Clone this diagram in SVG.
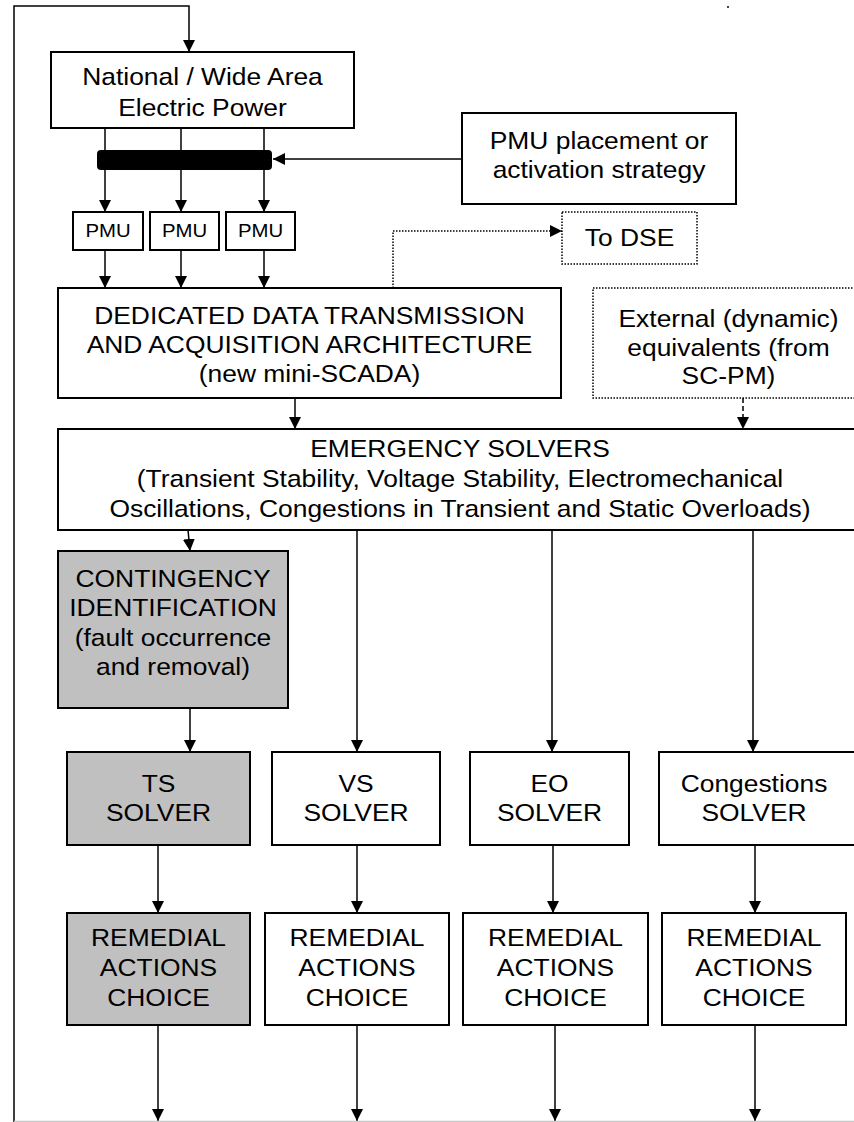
<svg xmlns="http://www.w3.org/2000/svg" width="854" height="1122" viewBox="0 0 854 1122">
<style>
.box{fill:#fff;stroke:#000;stroke-width:2}
.gray{fill:#c0c0c0;stroke:#000;stroke-width:2}
.dot{fill:#fff;stroke:#000;stroke-width:1.5;stroke-dasharray:1.5 1.5}
.t{font-family:"Liberation Sans",Arial,sans-serif;font-size:24px;text-anchor:middle;fill:#000}
.s{font-family:"Liberation Sans",Arial,sans-serif;font-size:18.5px;text-anchor:middle;fill:#000}
.c{stroke:#000;stroke-width:1.5;fill:none}
.cd{stroke:#000;stroke-width:1.5;fill:none;stroke-dasharray:1.5 1.5}
.cdash{stroke:#000;stroke-width:1.5;fill:none;stroke-dasharray:5 3}
</style>
<defs>
<marker id="ah" markerUnits="userSpaceOnUse" markerWidth="12" markerHeight="12" viewBox="0 0 12 12" refX="12" refY="6" orient="auto">
<path d="M0,0 L12,6 L0,12 z" fill="#000"/>
</marker>
</defs>
<rect width="854" height="1122" fill="#fff"/>
<g id="connectors">
<path class="c" d="M14,1122 V6 H189 V52" marker-end="url(#ah)"/>
<line class="c" x1="105" y1="128" x2="105" y2="212" marker-end="url(#ah)"/>
<line class="c" x1="181" y1="128" x2="181" y2="212" marker-end="url(#ah)"/>
<line class="c" x1="264" y1="128" x2="264" y2="212" marker-end="url(#ah)"/>
<rect x="97" y="150" width="175" height="20" rx="4" fill="#000"/>
<line class="c" x1="462" y1="159" x2="273" y2="159" marker-end="url(#ah)"/>
<line class="c" x1="105" y1="250" x2="105" y2="288" marker-end="url(#ah)"/>
<line class="c" x1="181" y1="250" x2="181" y2="288" marker-end="url(#ah)"/>
<line class="c" x1="264" y1="250" x2="264" y2="288" marker-end="url(#ah)"/>
<path class="cd" d="M393,288 V231 H562" marker-end="url(#ah)"/>
<line class="c" x1="295" y1="398" x2="295" y2="429" marker-end="url(#ah)"/>
<line class="cdash" x1="743" y1="398" x2="743" y2="429" marker-end="url(#ah)"/>
<line class="c" x1="188" y1="530" x2="190" y2="551" marker-end="url(#ah)"/>
<line class="c" x1="357" y1="530" x2="357" y2="752" marker-end="url(#ah)"/>
<line class="c" x1="552" y1="530" x2="552" y2="752" marker-end="url(#ah)"/>
<line class="c" x1="753" y1="530" x2="753" y2="752" marker-end="url(#ah)"/>
<line class="c" x1="190" y1="708" x2="190" y2="752" marker-end="url(#ah)"/>
<line class="c" x1="158" y1="845" x2="158" y2="913" marker-end="url(#ah)"/>
<line class="c" x1="357" y1="845" x2="357" y2="913" marker-end="url(#ah)"/>
<line class="c" x1="553" y1="845" x2="553" y2="913" marker-end="url(#ah)"/>
<line class="c" x1="755" y1="845" x2="755" y2="913" marker-end="url(#ah)"/>
<line class="c" x1="158" y1="1025" x2="158" y2="1121" marker-end="url(#ah)"/>
<line class="c" x1="357" y1="1025" x2="357" y2="1121" marker-end="url(#ah)"/>
<line class="c" x1="555" y1="1025" x2="555" y2="1121" marker-end="url(#ah)"/>
<line class="c" x1="755" y1="1025" x2="755" y2="1121" marker-end="url(#ah)"/>
</g>
<line x1="14" y1="1121.5" x2="854" y2="1121.5" stroke="#c8c8c8" stroke-width="1.5"/>
<rect x="727" y="6" width="2" height="2" fill="#444"/>
<g id="national">
<rect class="box" x="51" y="52" width="303" height="76"/>
<text class="t" transform="translate(202.5 0) scale(1.1 1)" y="85">National / Wide Area</text>
<text class="t" transform="translate(202.5 0) scale(1.1 1)" y="116">Electric Power</text>
</g>
<g id="pmu-strategy">
<rect class="box" x="462" y="113" width="274" height="91"/>
<text class="t" transform="translate(599 0) scale(1.1 1)" y="149">PMU placement or</text>
<text class="t" transform="translate(599 0) scale(1.1 1)" y="178">activation strategy</text>
</g>
<g id="pmu1">
<rect class="box" x="73" y="212" width="70" height="38"/>
<text class="s" transform="translate(108 0) scale(1.1 1)" y="237">PMU</text>
</g>
<g id="pmu2">
<rect class="box" x="150" y="212" width="69" height="38"/>
<text class="s" transform="translate(184.5 0) scale(1.1 1)" y="237">PMU</text>
</g>
<g id="pmu3">
<rect class="box" x="226" y="212" width="69" height="38"/>
<text class="s" transform="translate(260.5 0) scale(1.1 1)" y="237">PMU</text>
</g>
<g id="to-dse">
<rect class="dot" x="562" y="212" width="135" height="52"/>
<text class="t" transform="translate(629.5 0) scale(1.1 1)" y="246">To DSE</text>
</g>
<g id="ddt">
<rect class="box" x="58" y="288" width="503" height="110"/>
<text class="t" transform="translate(309.5 0) scale(1.1 1)" y="324">DEDICATED DATA TRANSMISSION</text>
<text class="t" transform="translate(309.5 0) scale(1.1 1)" y="353">AND ACQUISITION ARCHITECTURE</text>
<text class="t" transform="translate(309.5 0) scale(1.1 1)" y="382">(new mini-SCADA)</text>
</g>
<g id="external">
<rect class="dot" x="593" y="288" width="280" height="110"/>
<text class="t" transform="translate(728.5 0) scale(1.1 1)" y="327">External (dynamic)</text>
<text class="t" transform="translate(728.5 0) scale(1.1 1)" y="356">equivalents (from</text>
<text class="t" transform="translate(728.5 0) scale(1.1 1)" y="384">SC-PM)</text>
</g>
<g id="emergency">
<rect class="box" x="58" y="429" width="810" height="101"/>
<text class="t" transform="translate(460 0) scale(1.1 1)" y="457">EMERGENCY SOLVERS</text>
<text class="t" transform="translate(460 0) scale(1.1 1)" y="487">(Transient Stability, Voltage Stability, Electromechanical</text>
<text class="t" transform="translate(460 0) scale(1.1 1)" y="517">Oscillations, Congestions in Transient and Static Overloads)</text>
</g>
<g id="contingency">
<rect class="gray" x="58" y="551" width="230" height="157"/>
<text class="t" transform="translate(173 0) scale(1.1 1)" y="587">CONTINGENCY</text>
<text class="t" transform="translate(173 0) scale(1.1 1)" y="616">IDENTIFICATION</text>
<text class="t" transform="translate(173 0) scale(1.1 1)" y="646">(fault occurrence</text>
<text class="t" transform="translate(173 0) scale(1.1 1)" y="675">and removal)</text>
</g>
<g id="ts-solver">
<rect class="gray" x="67" y="752" width="183" height="93"/>
<text class="t" transform="translate(158.5 0) scale(1.1 1)" y="792">TS</text>
<text class="t" transform="translate(158.5 0) scale(1.1 1)" y="821">SOLVER</text>
</g>
<g id="vs-solver">
<rect class="box" x="272" y="752" width="168" height="93"/>
<text class="t" transform="translate(356 0) scale(1.1 1)" y="792">VS</text>
<text class="t" transform="translate(356 0) scale(1.1 1)" y="821">SOLVER</text>
</g>
<g id="eo-solver">
<rect class="box" x="470" y="752" width="159" height="93"/>
<text class="t" transform="translate(549.5 0) scale(1.1 1)" y="792">EO</text>
<text class="t" transform="translate(549.5 0) scale(1.1 1)" y="821">SOLVER</text>
</g>
<g id="cong-solver">
<rect class="box" x="659" y="752" width="205" height="93"/>
<text class="t" transform="translate(754 0) scale(1.1 1)" y="792">Congestions</text>
<text class="t" transform="translate(754 0) scale(1.1 1)" y="821">SOLVER</text>
</g>
<g id="ts-remedial">
<rect class="gray" x="67" y="913" width="183" height="112"/>
<text class="t" transform="translate(158.5 0) scale(1.1 1)" y="946">REMEDIAL</text>
<text class="t" transform="translate(158.5 0) scale(1.1 1)" y="976">ACTIONS</text>
<text class="t" transform="translate(158.5 0) scale(1.1 1)" y="1006">CHOICE</text>
</g>
<g id="vs-remedial">
<rect class="box" x="265" y="913" width="184" height="112"/>
<text class="t" transform="translate(357 0) scale(1.1 1)" y="946">REMEDIAL</text>
<text class="t" transform="translate(357 0) scale(1.1 1)" y="976">ACTIONS</text>
<text class="t" transform="translate(357 0) scale(1.1 1)" y="1006">CHOICE</text>
</g>
<g id="eo-remedial">
<rect class="box" x="463" y="913" width="185" height="112"/>
<text class="t" transform="translate(555.5 0) scale(1.1 1)" y="946">REMEDIAL</text>
<text class="t" transform="translate(555.5 0) scale(1.1 1)" y="976">ACTIONS</text>
<text class="t" transform="translate(555.5 0) scale(1.1 1)" y="1006">CHOICE</text>
</g>
<g id="cong-remedial">
<rect class="box" x="662" y="913" width="184" height="112"/>
<text class="t" transform="translate(754 0) scale(1.1 1)" y="946">REMEDIAL</text>
<text class="t" transform="translate(754 0) scale(1.1 1)" y="976">ACTIONS</text>
<text class="t" transform="translate(754 0) scale(1.1 1)" y="1006">CHOICE</text>
</g>
</svg>
